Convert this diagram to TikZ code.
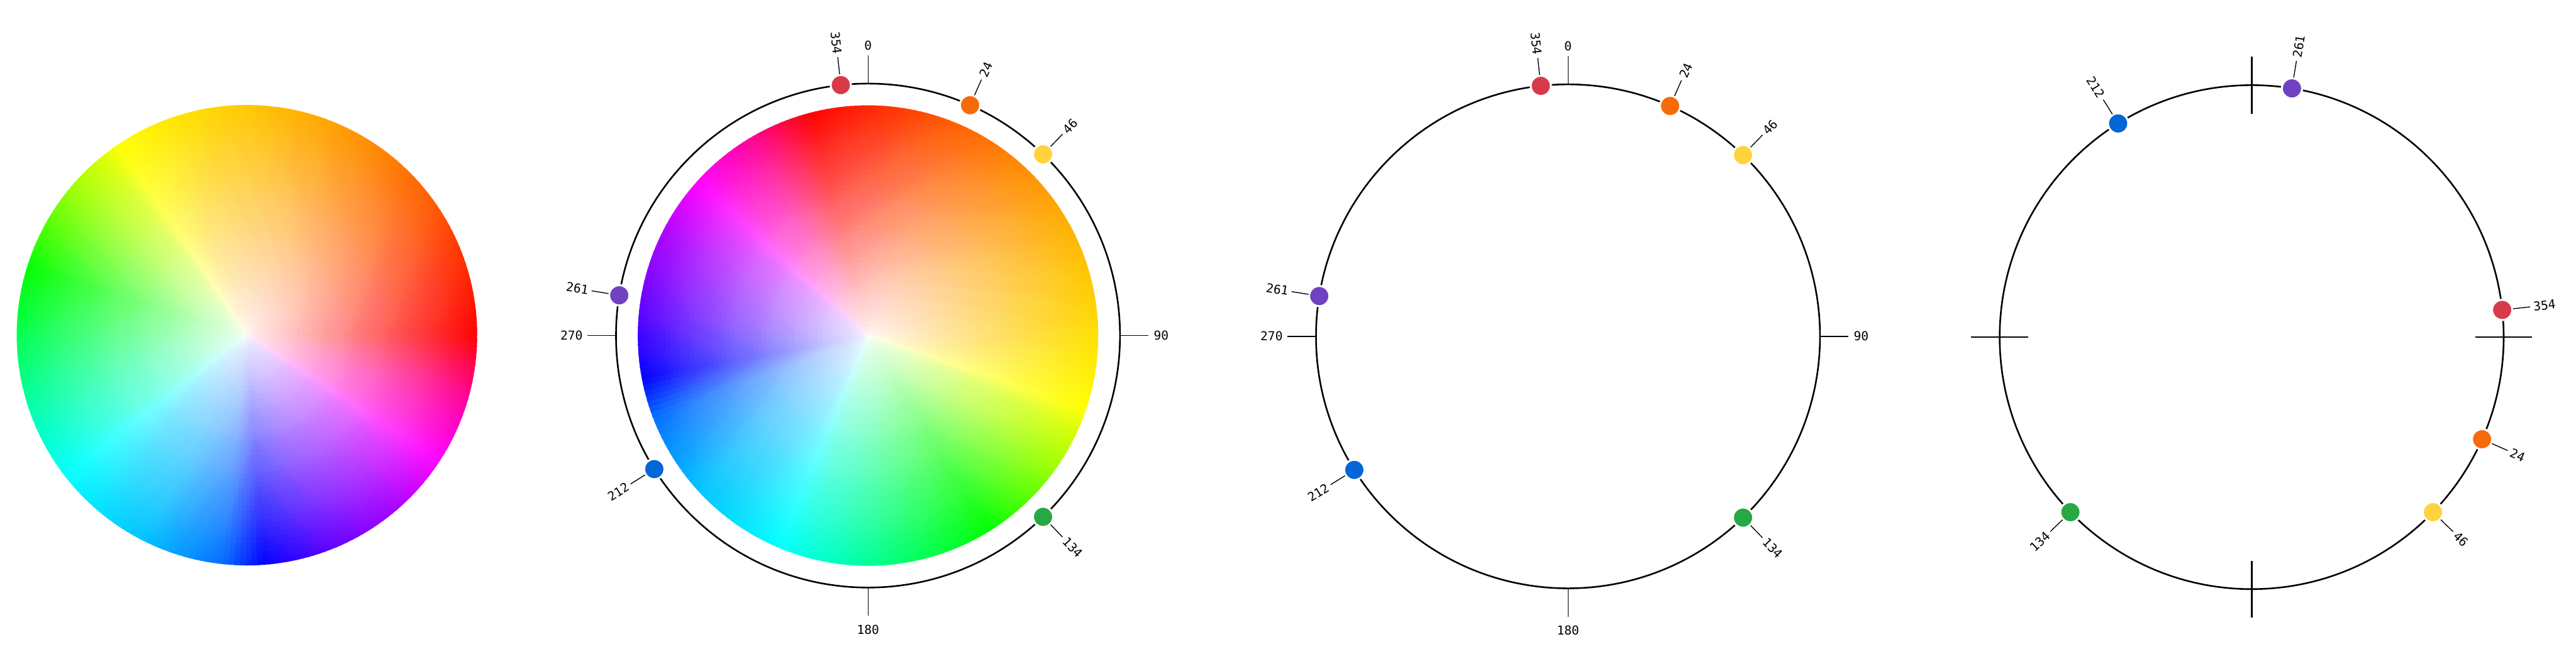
\documentclass[tikz,border=0pt]{standalone}
\usepackage{fontspec}
\newfontfamily\monofont{DejaVu Sans Mono}
\usetikzlibrary{calc}
\definecolor{h354}{HTML}{D73A49}
\definecolor{h24}{HTML}{F66A0A}
\definecolor{h46}{HTML}{FFD33D}
\definecolor{h134}{HTML}{28A745}
\definecolor{h212}{HTML}{0366D6}
\definecolor{h261}{HTML}{6F42C1}
\tikzset{
  ring/.style={line width=0.042cm, draw=black},
  tickline/.style={line width=0.022cm, draw=black},
  crossline/.style={line width=0.042cm, draw=black},
  leader/.style={line width=0.022cm, draw=black},
  hdot/.style={circle, minimum size=0.52cm, inner sep=0pt, line width=0.05cm, draw=white},
  lbl/.style={font=\monofont\fontsize{9}{10}\selectfont, inner sep=0pt},
}
\newcommand{\wheelR}{5.92}
\newcommand{\ringR}{6.48}
% colour wheel: #1 centre, #2 angle offset, #3 direction sign
\newcommand{\drawwheel}[3]{%
  \begin{scope}[shift={(#1)}]
    \foreach \aa/\ha/\ab/\hb in {0/0/15/8, 15/8/37/22, 37/22/70/39, 70/39/124/60,
        124/60/130/70, 130/70/139.5/82, 139.5/82/163/120, 163/120/177/135,
        177/135/197/158, 197/158/218/180, 218/180/244/195, 244/195/264/214,
        264/214/274/240, 274/240/291/262, 291/262/312/281, 312/281/327/300,
        327/300/345/326, 345/326/360/360}{
      \pgfmathtruncatemacro{\nn}{max(1,ceil((\ab-\aa)/1.5))}
      \foreach \k in {1,...,\nn}{
        \pgfmathsetmacro{\tA}{#2+#3*(\aa+(\k-1)*(\ab-\aa)/\nn)}
        \pgfmathsetmacro{\tB}{#2+#3*(\aa+\k*(\ab-\aa)/\nn+0.5)}
        \pgfmathsetmacro{\hh}{min(359.9,\ha+(\k-0.5)*(\hb-\ha)/\nn)}
        \definecolor{wc}{Hsb}{\hh,1,1}
        \fill[wc] (0,0) -- (\tA:\wheelR) arc[start angle=\tA, end angle=\tB, radius=\wheelR] -- cycle;
      }
    }
    \foreach \k in {1,...,50}{
      \pgfmathsetmacro{\op}{1/(\k+0.5)}
      \fill[white, fill opacity=\op] (0,0) circle[radius={\wheelR*\k/50}];
    }
  \end{scope}
}
% hue dot: #1 centre, #2 id, #3 compass angle, #4 label, #5 colour
\newcommand{\huedot}[5]{%
  \pgfmathsetmacro{\th}{90-(#3)}%
  \pgfmathtruncatemacro{\lh}{(mod((#3)+720,360)>180)}%
  \node[hdot, fill=#5] (#2) at ($(#1)+(\th:\ringR)$) {};
  \coordinate (#2a) at ($(#1)+(\th:6.76)$);
  \coordinate (#2b) at ($(#1)+(\th:7.20)$);
  \draw[leader] (#2a) -- (#2b);
  \ifnum\lh=1
    \node[lbl, anchor=east, rotate=\th+180] (#2t) at ($(#1)+(\th:7.28)$) {#4};
  \else
    \node[lbl, anchor=west, rotate=\th] (#2t) at ($(#1)+(\th:7.28)$) {#4};
  \fi
}
% cardinal ticks with labels: #1 centre, #2 prefix
\newcommand{\cardinal}[2]{%
  \foreach \cc/\nm in {0/n,90/e,180/s,270/w}{
    \pgfmathsetmacro{\th}{90-\cc}
    \coordinate (#2\nm a) at ($(#1)+(\th:\ringR)$);
    \coordinate (#2\nm b) at ($(#1)+(\th:7.21)$);
    \draw[tickline] (#2\nm a) -- (#2\nm b);
  }
  \node[lbl, anchor=south] (#2nt) at ($(#1)+(0,7.34)$) {0};
  \node[lbl, anchor=west] (#2et) at ($(#1)+(7.34,0)$) {90};
  \node[lbl, anchor=north] (#2st) at ($(#1)+(0,-7.43)$) {180};
  \node[lbl, anchor=east] (#2wt) at ($(#1)+(-7.33,0)$) {270};
}
% six hue dots: #1 centre, #2 prefix, #3 rotation
\newcommand{\sixdots}[3]{%
  \huedot{#1}{#2d354}{353.8+#3}{354}{h354}
  \huedot{#1}{#2d24}{23.9+#3}{24}{h24}
  \huedot{#1}{#2d46}{44+#3}{46}{h46}
  \huedot{#1}{#2d134}{136+#3}{134}{h134}
  \huedot{#1}{#2d212}{238+#3}{212}{h212}
  \huedot{#1}{#2d261}{279.2+#3}{261}{h261}
}
\begin{document}
\begin{tikzpicture}
  \useasboundingbox (0,0) rectangle (66.24,17.24);
  \fill[white] (0,0) rectangle (66.24,17.24);
  \coordinate (c1) at (6.35,8.62);
  \coordinate (c2) at (22.32,8.61);
  \coordinate (c3) at (40.32,8.59);
  \coordinate (c4) at (57.90,8.57);
  % panel 1
  \drawwheel{c1}{0}{1}
  % panel 2
  \drawwheel{c2}{105}{-1}
  \draw[ring] (c2) circle[radius=\ringR];
  \cardinal{c2}{p2}
  \sixdots{c2}{p2}{0}
  % panel 3
  \draw[ring] (c3) circle[radius=\ringR];
  \cardinal{c3}{p3}
  \sixdots{c3}{p3}{0}
  % panel 4
  \draw[ring] (c4) circle[radius=\ringR];
  \foreach \cc/\nm in {0/n,90/e,180/s,270/w}{
    \pgfmathsetmacro{\th}{90-\cc}
    \coordinate (p4\nm a) at ($(c4)+(\th:5.75)$);
    \coordinate (p4\nm b) at ($(c4)+(\th:7.21)$);
    \draw[crossline] (p4\nm a) -- (p4\nm b);
  }
  \sixdots{c4}{p4}{90}
\end{tikzpicture}
\end{document}
